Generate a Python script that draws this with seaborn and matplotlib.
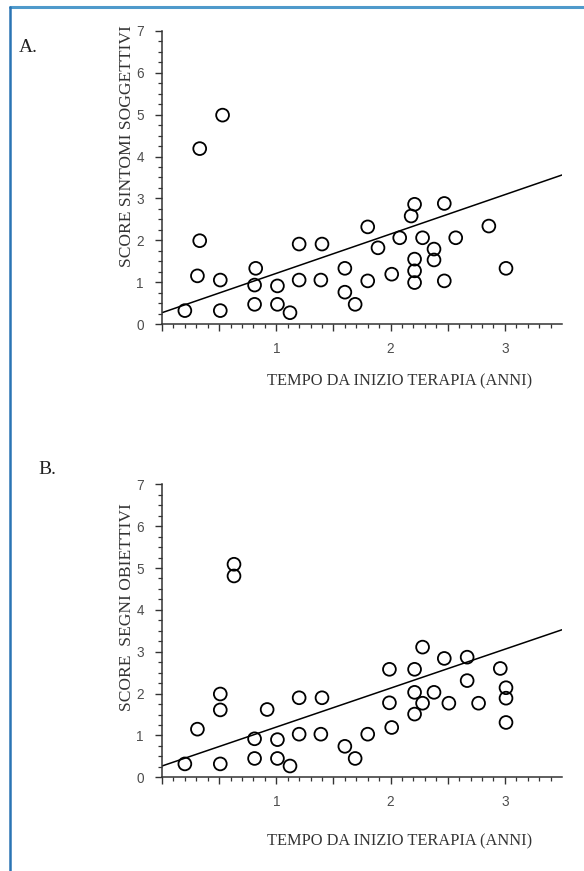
import numpy as np
import pandas as pd
import matplotlib
matplotlib.use("Agg")
import matplotlib.pyplot as plt
import seaborn as sns
from matplotlib.ticker import MultipleLocator, FixedLocator, FuncFormatter
from matplotlib.lines import Line2D

# ---------------- data ----------------
a_x = [0.20, 0.31, 0.33, 0.33, 0.53, 0.51, 0.51, 0.82, 0.81, 0.81, 1.01, 1.01, 1.12,
       1.20, 1.20, 1.40, 1.39, 1.60, 1.60, 1.69, 1.80, 1.80, 1.89, 2.01, 2.08, 2.18,
       2.21, 2.21, 2.21, 2.21, 2.28, 2.38, 2.38, 2.47, 2.47, 2.57, 2.86, 3.01]
a_y = [0.32, 1.15, 1.99, 4.19, 4.99, 1.05, 0.32, 1.33, 0.93, 0.47, 0.91, 0.47, 0.27,
       1.91, 1.05, 1.91, 1.05, 1.33, 0.76, 0.47, 2.32, 1.03, 1.82, 1.19, 2.06, 2.58,
       2.86, 1.55, 1.27, 0.99, 2.06, 1.79, 1.53, 2.88, 1.03, 2.06, 2.34, 1.33]

b_x = [0.20, 0.31, 0.51, 0.51, 0.51, 0.63, 0.63, 0.92, 0.81, 0.81, 1.01, 1.01, 1.12,
       1.20, 1.20, 1.40, 1.39, 1.60, 1.69, 1.80, 2.01, 1.99, 1.99, 2.21, 2.21, 2.21,
       2.28, 2.28, 2.38, 2.47, 2.51, 2.67, 2.67, 2.77, 2.96, 3.01, 3.01, 3.01]
b_y = [0.32, 1.15, 1.99, 1.61, 0.32, 5.09, 4.81, 1.62, 0.92, 0.45, 0.90, 0.45, 0.27,
       1.90, 1.03, 1.90, 1.03, 0.74, 0.45, 1.03, 1.19, 1.78, 2.58, 2.58, 2.03, 1.51,
       3.11, 1.77, 2.03, 2.84, 1.77, 2.87, 2.31, 1.77, 2.60, 2.14, 1.89, 1.31]

# fitted regression lines (intercept, slope)
a_fit = (0.27, 0.94)
b_fit = (0.27, 0.93)

panel_letters = ["A.", "B."]
y_labels = ["SCORE SINTOMI SOGGETTIVI", "SCORE  SEGNI OBIETTIVI"]
x_label = "TEMPO DA INIZIO TERAPIA (ANNI)"
x_ticklabels = {1: "1", 2: "2", 3: "3"}

# ---------------- figure ----------------
sns.set_theme(style="white")
plt.rcParams["font.family"] = ["Liberation Sans", "DejaVu Sans"]

W, H = 584, 871
fig = plt.figure(figsize=(W / 100, H / 100), dpi=100)
fig.patch.set_facecolor("white")

def px_axes(left, top, right, bottom):
    return fig.add_axes([left / W, 1 - bottom / H, (right - left) / W, (bottom - top) / H])

axA = px_axes(162, 31, 562, 324)
axB = px_axes(162, 484.3, 562, 777.3)

panels = [
    (axA, a_x, a_y, a_fit, y_labels[0], 0.606, -0.195),
    (axB, b_x, b_y, b_fit, y_labels[1], 0.58, -0.22),
]

for ax, xs, ys, fit, ylab, ylab_y, xlab_y in panels:
    df = pd.DataFrame({"x": xs, "y": ys})
    sns.scatterplot(data=df, x="x", y="y", ax=ax, marker="o", s=85,
                    facecolor="none", edgecolor="black", linewidth=1.3, zorder=3)
    fx = np.array([0.0, 3.5])
    fdf = pd.DataFrame({"x": fx, "y": fit[0] + fit[1] * fx})
    sns.lineplot(data=fdf, x="x", y="y", ax=ax, color="black", linewidth=1.1, zorder=2)

    ax.set_xlim(0, 3.5)
    ax.set_ylim(0, 7)
    ax.set_facecolor("white")
    for s in ["top", "right"]:
        ax.spines[s].set_visible(False)
    for s in ["left", "bottom"]:
        ax.spines[s].set_color("#333333")
        ax.spines[s].set_linewidth(1.1)

    ax.xaxis.set_major_locator(FixedLocator([0, 0.5, 1, 1.5, 2, 2.5, 3]))
    ax.xaxis.set_minor_locator(FixedLocator([i / 10 for i in range(0, 35)]))
    ax.xaxis.set_major_formatter(FuncFormatter(
        lambda v, p: x_ticklabels.get(int(round(v)), "") if abs(v - round(v)) < 1e-6 else ""))
    ax.yaxis.set_major_locator(MultipleLocator(1))
    ax.yaxis.set_minor_locator(MultipleLocator(0.25))

    ax.tick_params(axis="both", which="major", direction="out", length=5, width=1.0,
                   color="#333333", labelcolor="#4d4d4d", labelsize=9.8,
                   bottom=True, left=True)
    ax.tick_params(axis="both", which="minor", direction="out", length=3, width=0.9,
                   color="#333333", bottom=True, left=True)
    ax.tick_params(axis="x", which="major", pad=8)
    ax.tick_params(axis="y", which="major", pad=8)

    ax.set_xlabel(x_label, family=["Liberation Serif"], fontsize=11.8,
                  color="#333333", va="center", ha="center")
    ax.xaxis.set_label_coords(0.593, xlab_y)
    ax.set_ylabel(ylab, family=["Liberation Serif"], fontsize=12.6,
                  color="#333333", va="center", ha="center")
    ax.yaxis.set_label_coords(-0.0875, ylab_y)

# panel letters
fig.text(28 / W, 1 - 47 / H, panel_letters[0], family=["Liberation Serif"],
         fontsize=14, color="#222222", ha="center", va="center")
fig.text(47 / W, 1 - 470 / H, panel_letters[1], family=["Liberation Serif"],
         fontsize=14, color="#222222", ha="center", va="center")

# page border (top and left)
fig.add_artist(Line2D([9.5 / W, 1.0], [1 - 7.5 / H, 1 - 7.5 / H],
                      transform=fig.transFigure, color="#4f9acb", linewidth=2.2))
fig.add_artist(Line2D([9.5 / W, 9.5 / W], [1 - 7.5 / H, 0.0],
                      transform=fig.transFigure, color="#2a74b4", linewidth=1.8))

fig.savefig("out.png", dpi=100, facecolor="white")
